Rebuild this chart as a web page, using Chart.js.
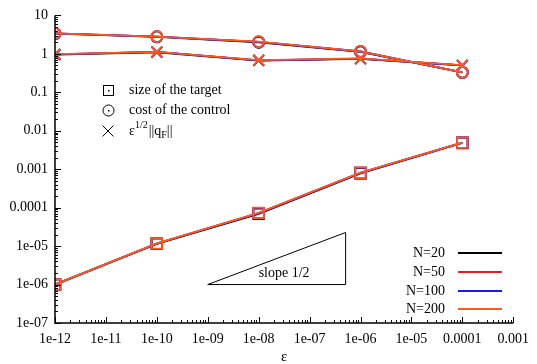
<!DOCTYPE html>
<html>
<head>
<meta charset="utf-8">
<script src="https://cdn.jsdelivr.net/npm/chart.js@4/dist/chart.umd.min.js"></script>
<style>
html,body{margin:0;padding:0;background:#fff;}
#wrap{width:537px;height:364px;}
</style>
</head>
<body>
<div id="wrap"><canvas id="c" width="537" height="364"></canvas></div>
<script>
// ---- data ----
const epsilon = [1e-12, 1e-10, 1e-8, 1e-6, 1e-4];
const seriesNames = ["N=20", "N=50", "N=100", "N=200"];
const targetN20  = [1.0e-6, 1.14e-5, 6.9e-5, 7.8e-4, 4.8e-3];
const targetN50  = [1.0e-6, 1.17e-5, 7.2e-5, 8.0e-4, 4.9e-3];
const targetN100 = [1.0e-6, 1.17e-5, 7.2e-5, 8.0e-4, 4.9e-3];
const targetN200 = [1.0e-6, 1.18e-5, 7.3e-5, 8.1e-4, 4.9e-3];
const costN20  = [3.35, 2.75, 2.0, 1.12, 0.33];
const costN50  = [3.4, 2.8, 2.05, 1.15, 0.33];
const costN100 = [3.4, 2.8, 2.05, 1.15, 0.33];
const costN200 = [3.42, 2.82, 2.07, 1.16, 0.33];
const qN20  = [0.95, 1.1, 0.67, 0.74, 0.5];
const qN50  = [0.97, 1.12, 0.68, 0.75, 0.5];
const qN100 = [0.97, 1.12, 0.68, 0.75, 0.5];
const qN200 = [0.98, 1.13, 0.69, 0.76, 0.51];
const xTickValues = [1e-12,1e-11,1e-10,1e-9,1e-8,1e-7,1e-6,1e-5,1e-4,1e-3];
const xTickLabels = ["1e-12","1e-11","1e-10","1e-09","1e-08","1e-07","1e-06","1e-05","0.0001","0.001"];
const yTickValues = [1e-7,1e-6,1e-5,1e-4,1e-3,1e-2,1e-1,1,10];
const yTickLabels = ["1e-07","1e-06","1e-05","0.0001","0.001","0.01","0.1","1","10"];
const slopeX = [1e-9, 5.1e-7, 5.1e-7, 1e-9];
const slopeY = [1e-6, 1e-6, 2.26e-5, 1e-6];
const slopeLabel = "slope 1/2";
const symbolLabels = ["size of the target", "cost of the control"];
const xTitle = "ε";

const colors = ["#000000", "#ee1c1c", "#1a1aee", "#ff5a1e"];
const targets = [targetN20, targetN50, targetN100, targetN200];
const costs = [costN20, costN50, costN100, costN200];
const qs = [qN20, qN50, qN100, qN200];

const pts = (xs, ys) => xs.map((x, i) => ({x: x, y: ys[i]}));
const datasets = [];
for (let k = 0; k < 4; k++) {
  const common = {showLine: true, borderColor: colors[k], borderWidth: 1.8, pointBorderColor: colors[k],
    pointBackgroundColor: 'rgba(0,0,0,0)', pointBorderWidth: 1.8, fill: false, tension: 0, order: 4 - k};
  datasets.push(Object.assign({label: seriesNames[k] + " target", data: pts(epsilon, targets[k]), pointStyle: 'rect', pointRadius: 7.5}, common));
  datasets.push(Object.assign({label: seriesNames[k] + " cost", data: pts(epsilon, costs[k]), pointStyle: 'circle', pointRadius: 5.5}, common));
  datasets.push(Object.assign({label: seriesNames[k] + " q", data: pts(epsilon, qs[k]), pointStyle: 'cross', rotation: 45, pointRadius: 7.5}, common));
}
datasets.push({label: "slope", data: pts(slopeX, slopeY), showLine: true, borderColor: '#000', borderWidth: 1, pointRadius: 0, fill: false, tension: 0, order: 10});

const serif = "'Liberation Serif', 'DejaVu Serif', serif";

const axesPlugin = {
  id: 'axesPlugin',
  afterDraw(chart) {
    const ctx = chart.ctx;
    const xs = chart.scales.x, ys = chart.scales.y;
    const a = chart.chartArea;
    ctx.save();
    ctx.strokeStyle = '#000';
    ctx.lineWidth = 1.5;
    ctx.beginPath();
    ctx.moveTo(a.left, a.top); ctx.lineTo(a.left, a.bottom); ctx.lineTo(a.right, a.bottom);
    ctx.stroke();
    ctx.lineWidth = 1;
    ctx.beginPath();
    for (let d = -7; d <= 1; d++) {
      const p = Math.round(ys.getPixelForValue(Math.pow(10, d))) + 0.5;
      ctx.moveTo(a.left, p); ctx.lineTo(a.left + 6, p);
      if (d < 1) for (let m = 2; m <= 9; m++) {
        const q = Math.round(ys.getPixelForValue(m * Math.pow(10, d))) + 0.5;
        ctx.moveTo(a.left, q); ctx.lineTo(a.left + 3, q);
      }
    }
    for (let d = -12; d <= -3; d++) {
      const p = Math.round(xs.getPixelForValue(Math.pow(10, d))) + 0.5;
      ctx.moveTo(p, a.bottom); ctx.lineTo(p, a.bottom - 6);
      if (d < -3) for (let m = 2; m <= 9; m++) {
        const q = Math.round(xs.getPixelForValue(m * Math.pow(10, d))) + 0.5;
        ctx.moveTo(q, a.bottom); ctx.lineTo(q, a.bottom - 3);
      }
    }
    ctx.stroke();

    // symbol legend
    ctx.fillStyle = '#000';
    ctx.font = "14px " + serif;
    ctx.textBaseline = 'middle';
    ctx.textAlign = 'left';
    const sx = 108, ty = [90, 110, 131];
    ctx.lineWidth = 1;
    ctx.strokeRect(sx - 4.5, ty[0] - 4.5, 10, 10);
    ctx.fillRect(sx, ty[0], 1.5, 1.5);
    ctx.beginPath(); ctx.arc(sx + 0.5, ty[1] + 0.5, 5.5, 0, Math.PI * 2); ctx.stroke();
    ctx.fillRect(sx, ty[1], 1.5, 1.5);
    ctx.beginPath();
    ctx.moveTo(sx - 5.5, ty[2] - 5.5); ctx.lineTo(sx + 5.5, ty[2] + 5.5);
    ctx.moveTo(sx + 5.5, ty[2] - 5.5); ctx.lineTo(sx - 5.5, ty[2] + 5.5);
    ctx.stroke();
    const tx = 129;
    ctx.fillText(symbolLabels[0], tx, ty[0]);
    ctx.fillText(symbolLabels[1], tx, ty[1]);
    // ε^{1/2}||q_F||
    let cx = tx;
    ctx.fillText("ε", cx, ty[2]); cx += ctx.measureText("ε").width;
    ctx.font = "10px " + serif;
    ctx.fillText("1/2", cx, ty[2] - 6); cx += ctx.measureText("1/2").width + 1;
    ctx.font = "14px " + serif;
    ctx.fillText("||q", cx, ty[2]); cx += ctx.measureText("||q").width;
    ctx.font = "10px " + serif;
    ctx.fillText("F", cx, ty[2] + 4); cx += ctx.measureText("F").width;
    ctx.font = "14px " + serif;
    ctx.fillText("||", cx, ty[2]);

    // N legend
    ctx.textAlign = 'right';
    const ly = [253, 272, 291, 309];
    for (let k = 0; k < 4; k++) {
      ctx.fillStyle = '#000';
      ctx.fillText(seriesNames[k], 445, ly[k]);
      ctx.strokeStyle = colors[k];
      ctx.lineWidth = 1.8;
      ctx.beginPath(); ctx.moveTo(458, ly[k]); ctx.lineTo(502, ly[k]); ctx.stroke();
    }

    // slope label
    ctx.fillStyle = '#000';
    ctx.textAlign = 'left';
    const lx = xs.getPixelForValue(1e-8);
    const lyy = ys.getPixelForValue(2.0e-6);
    ctx.fillText(slopeLabel, lx, lyy);
    ctx.restore();
  }
};

new Chart(document.getElementById('c'), {
  type: 'scatter',
  data: {datasets: datasets},
  options: {
    responsive: false,
    animation: false,
    devicePixelRatio: 1,
    layout: {padding: {left: 0, right: 18.5, top: 12, bottom: 0}},
    plugins: {legend: {display: false}, tooltip: {enabled: false}},
    scales: {
      x: {
        type: 'logarithmic', min: 1e-12, max: 1e-3,
        afterBuildTicks: s => { s.ticks = xTickValues.map(v => ({value: v})); },
        afterFit: s => { s.height = 41; },
        grid: {display: false, drawTicks: false},
        border: {display: false},
        ticks: {autoSkip: false, maxRotation: 0, padding: 8, color: '#000', font: {family: serif, size: 14},
          callback: (v) => { const i = xTickValues.findIndex(t => Math.abs(Math.log10(t) - Math.log10(v)) < 1e-6); return i >= 0 ? xTickLabels[i] : ''; }},
        title: {display: true, text: xTitle, color: '#000', font: {family: serif, size: 15}, padding: {top: 0, bottom: -2}}
      },
      y: {
        type: 'logarithmic', min: 1e-7, max: 10,
        afterBuildTicks: s => { s.ticks = yTickValues.map(v => ({value: v})); },
        afterFit: s => { s.width = 55; },
        grid: {display: false, drawTicks: false},
        border: {display: false},
        ticks: {autoSkip: false, padding: 7, color: '#000', font: {family: serif, size: 14},
          callback: (v) => { const i = yTickValues.findIndex(t => Math.abs(Math.log10(t) - Math.log10(v)) < 1e-6); return i >= 0 ? yTickLabels[i] : ''; }}
      }
    }
  },
  plugins: [axesPlugin]
});
</script>
</body>
</html>
